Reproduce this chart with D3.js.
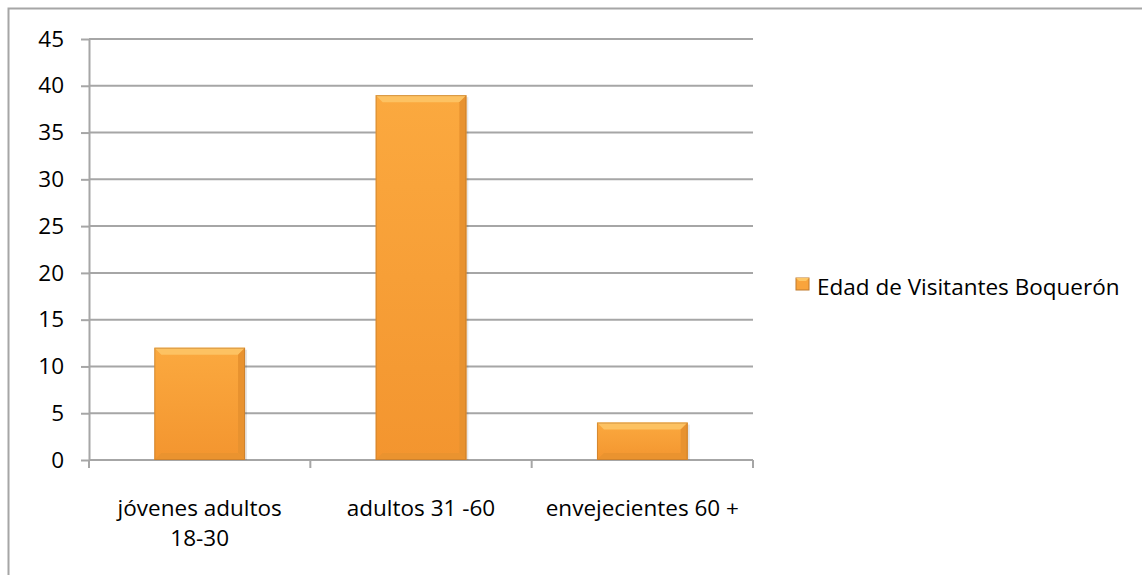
<!DOCTYPE html>
<html>
<head>
<meta charset="utf-8">
<script src="https://cdn.jsdelivr.net/npm/d3@7"></script>
<style>
  body { margin: 0; background: #fff; }
  text { font-family: "Open Sans", "Noto Sans", sans-serif; fill: #000; }
</style>
</head>
<body>
<script>
// data
var categories = ["jóvenes adultos\n18-30", "adultos 31 -60", "envejecientes 60 +"];
var values = [12, 39, 4];
var seriesName = "Edad de Visitantes Boquerón";
var yTicks = [0, 5, 10, 15, 20, 25, 30, 35, 40, 45];

var W = 1142, H = 575;
var plot = {left: 89, right: 753, top: 39, bottom: 460};
var fontSize = "22.5px";

var x = d3.scaleBand().domain(categories).range([plot.left, plot.right]).paddingInner(0.59).paddingOuter(0.295);
var y = d3.scaleLinear().domain([0, 45]).range([plot.bottom, plot.top]);

var svg = d3.select("body").append("svg")
    .attr("width", W)
    .attr("height", H);

var defs = svg.append("defs");
var g1 = defs.append("linearGradient").attr("id", "barFill")
    .attr("x1", 0).attr("x2", 0).attr("y1", 0).attr("y2", 1);
g1.append("stop").attr("offset", "0%").attr("stop-color", "#fba93f");
g1.append("stop").attr("offset", "100%").attr("stop-color", "#f3952f");

// outer border (top + left only visible)
svg.append("path")
    .attr("d", "M8.5," + H + "V8.5H" + W)
    .attr("fill", "none")
    .attr("stroke", "#a6a6a6")
    .attr("stroke-width", 2);

// gridlines
svg.append("g").selectAll("line")
  .data(yTicks.filter(d => d > 0))
  .join("line")
    .attr("x1", plot.left).attr("x2", plot.right)
    .attr("y1", d => y(d)).attr("y2", d => y(d))
    .attr("stroke", "#a6a6a6").attr("stroke-width", 2);

// y axis
var yAxis = svg.append("g")
    .attr("transform", "translate(" + plot.left + ",0)")
    .call(d3.axisLeft(y).tickValues(yTicks).tickSize(8).tickPadding(17).tickSizeOuter(0));
yAxis.select(".domain").attr("stroke", "#a6a6a6").attr("stroke-width", 2);
yAxis.selectAll(".tick line").attr("stroke", "#a6a6a6").attr("stroke-width", 2);
yAxis.selectAll(".tick text").style("font-size", fontSize).attr("font-family", "Open Sans").attr("fill", "#000");

// x axis
var xAxis = svg.append("g")
    .attr("transform", "translate(0," + plot.bottom + ")");
xAxis.append("line")
    .attr("x1", plot.left).attr("x2", plot.right)
    .attr("stroke", "#a6a6a6").attr("stroke-width", 2);
var bounds = d3.range(categories.length + 1).map(i => plot.left + i * (plot.right - plot.left) / categories.length);
xAxis.selectAll(".xtick").data(bounds).join("line")
    .attr("x1", d => d).attr("x2", d => d)
    .attr("y1", 0).attr("y2", 8)
    .attr("stroke", "#a6a6a6").attr("stroke-width", 2);

var xl = xAxis.selectAll(".xlab").data(categories).join("text")
    .attr("text-anchor", "middle")
    .style("font-size", fontSize)
    .attr("transform", d => "translate(" + (x(d) + x.bandwidth() / 2) + ",0)");
xl.selectAll("tspan").data(d => d.split("\n")).join("tspan")
    .attr("x", 0)
    .attr("y", (d, i) => 56 + i * 30)
    .text(d => d);

// bars
var bars = svg.append("g").selectAll("g").data(values).join("g");
bars.each(function(v, i) {
  var gEl = d3.select(this);
  var x0 = x(categories[i]), bw = x.bandwidth();
  var y0 = y(v), h = y(0) - y(v);
  var b = Math.min(7, h / 3);
  gEl.append("rect").attr("x", x0 + 2).attr("y", y0 + 2).attr("width", bw).attr("height", h - 2)
     .attr("fill", "#000").attr("opacity", 0.1);
  gEl.append("rect").attr("x", x0).attr("y", y0).attr("width", bw).attr("height", h)
     .attr("fill", "url(#barFill)");
  // bevel: top light
  gEl.append("path")
     .attr("d", "M" + x0 + "," + y0 + "H" + (x0 + bw) + "L" + (x0 + bw - b) + "," + (y0 + b) + "H" + (x0 + b) + "Z")
     .attr("fill", "#fdc262");
  // right dark
  gEl.append("path")
     .attr("d", "M" + (x0 + bw) + "," + y0 + "L" + (x0 + bw - b) + "," + (y0 + b) + "V" + (y0 + h - b) + "L" + (x0 + bw) + "," + (y0 + h) + "Z")
     .attr("fill", "#e8922f");
  // bottom dark
  gEl.append("path")
     .attr("d", "M" + x0 + "," + (y0 + h) + "L" + (x0 + b) + "," + (y0 + h - b) + "H" + (x0 + bw - b) + "L" + (x0 + bw) + "," + (y0 + h) + "Z")
     .attr("fill", "#ea932f");
  gEl.append("rect").attr("x", x0 + 0.5).attr("y", y0 + 0.5).attr("width", bw - 1).attr("height", h - 1)
     .attr("fill", "none").attr("stroke", "#b8742a").attr("stroke-opacity", 0.55);
});

// legend
var lg = svg.append("g").attr("transform", "translate(796,278)");
lg.append("rect").attr("width", 13).attr("height", 12).attr("fill", "#f9a43c").attr("stroke", "#c07a2c");
lg.append("path").attr("d", "M0,0H13L10,3H3Z").attr("fill", "#fdc766");
lg.append("text").attr("x", 21).attr("y", 17).style("font-size", fontSize).text(seriesName);
</script>
</body>
</html>
